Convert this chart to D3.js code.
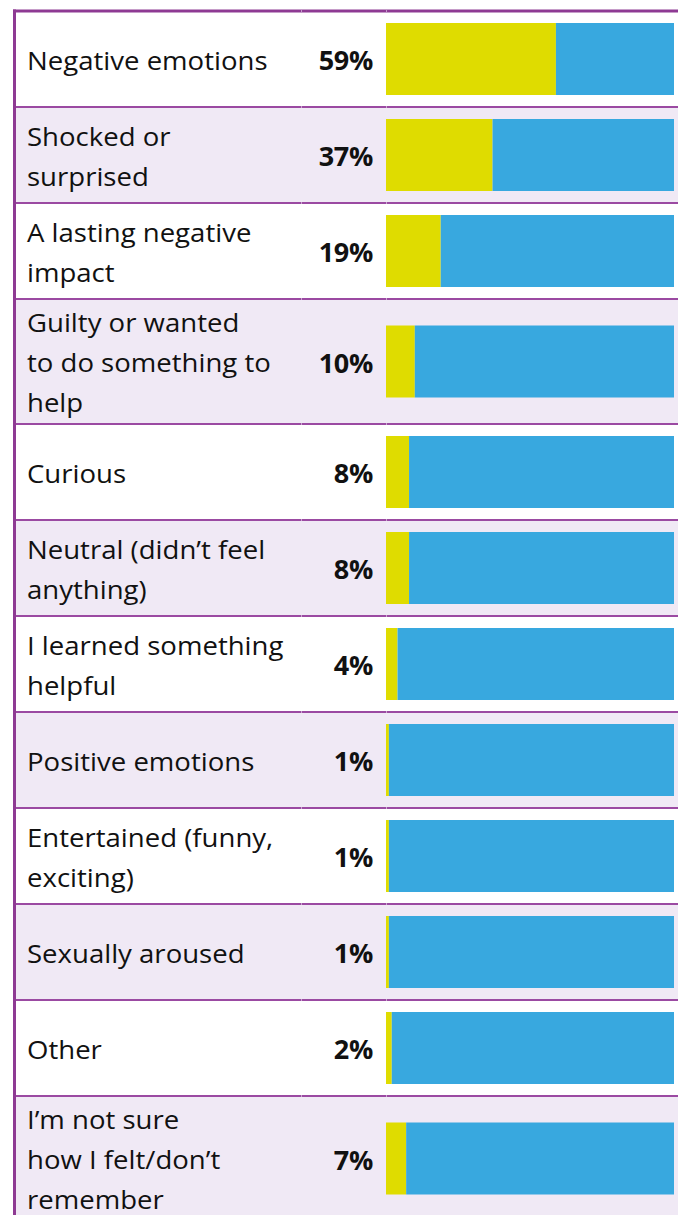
<!DOCTYPE html>
<html>
<head>
<meta charset="utf-8">
<script src="https://cdn.jsdelivr.net/npm/d3@7"></script>
<style>
  html, body { margin: 0; padding: 0; background: #ffffff; }
  svg { display: block; }
</style>
</head>
<body>
<svg id="chart" width="678" height="1215"></svg>
<script>
// Response categories, one array of text lines per table row
const categories = [
  ["Negative emotions"],
  ["Shocked or", "surprised"],
  ["A lasting negative", "impact"],
  ["Guilty or wanted", "to do something to", "help"],
  ["Curious"],
  ["Neutral (didn\u2019t feel", "anything)"],
  ["I learned something", "helpful"],
  ["Positive emotions"],
  ["Entertained (funny,", "exciting)"],
  ["Sexually aroused"],
  ["Other"],
  ["I\u2019m not sure", "how I felt/don\u2019t", "remember"]
];

// Share of respondents (%) for each category
const values = [59, 37, 19, 10, 8, 8, 4, 1, 1, 1, 2, 7];

// Value labels shown next to each bar
const valueLabels = ["59%", "37%", "19%", "10%", "8%", "8%", "4%", "1%", "1%", "1%", "2%", "7%"];

const W = 678, H = 1215;
const svg = d3.select("#chart");

const colors = {
  border: "#8e3a93",
  rule: "#9b4aa2",
  band: "#f0e9f5",
  yes: "#dfdc00",
  rest: "#38a8df",
  text: "#111111"
};

const tableLeft = 13, tableTop = 11;
const lineGap = 40;
const labelX = 27;

// Row heights grow with the number of text lines
const rowHeight = n => (n >= 3 ? 125 : 96);
const rows = [];
let yCursor = tableTop;
categories.forEach((lines, i) => {
  const h = rowHeight(lines.length);
  rows.push({ lines, value: values[i], label: valueLabels[i], y: yCursor, h, i });
  yCursor += h;
});

// Horizontal scale for the 100% stacked bar
const x = d3.scaleLinear().domain([0, 100]).range([386, 674]);
const barH = 72;

const g = svg.append("g");

// Alternating row bands
g.selectAll("rect.band")
  .data(rows)
  .join("rect")
  .attr("class", "band")
  .attr("x", tableLeft)
  .attr("y", d => d.y)
  .attr("width", W - tableLeft)
  .attr("height", d => d.h)
  .attr("fill", d => (d.i % 2 === 1 ? colors.band : "#ffffff"));

// Row separators
g.selectAll("line.rule")
  .data(rows.slice(1))
  .join("line")
  .attr("class", "rule")
  .attr("x1", tableLeft)
  .attr("x2", W)
  .attr("y1", d => d.y)
  .attr("y2", d => d.y)
  .attr("stroke", colors.rule)
  .attr("stroke-width", 2);

// Faint cell joints where column boundaries cross each rule
const joints = [301, 386];
rows.slice(1).forEach(r => {
  g.selectAll(null)
    .data(joints)
    .join("rect")
    .attr("x", d => d)
    .attr("y", r.y - 1)
    .attr("width", 1)
    .attr("height", 2)
    .attr("fill", "#c9a6cf");
});

// Outer border: top and left edges
g.append("rect")
  .attr("x", tableLeft)
  .attr("y", tableTop - 1.5)
  .attr("width", W - tableLeft)
  .attr("height", 3)
  .attr("fill", colors.border);
g.append("rect")
  .attr("x", tableLeft)
  .attr("y", tableTop - 1.5)
  .attr("width", 3)
  .attr("height", H)
  .attr("fill", colors.border);
g.selectAll(null)
  .data(joints)
  .join("rect")
  .attr("x", d => d)
  .attr("y", tableTop - 1.5)
  .attr("width", 1)
  .attr("height", 3)
  .attr("fill", "#c39acb");

// Stacked bars: share (yellow) and remainder (blue)
const bars = g.selectAll("g.bar")
  .data(rows)
  .join("g")
  .attr("class", "bar")
  .attr("transform", d => `translate(0,${d.y + d.h / 2 - barH / 2})`);

bars.append("rect")
  .attr("x", x(0))
  .attr("y", 0)
  .attr("width", d => x(d.value) - x(0))
  .attr("height", barH)
  .attr("fill", colors.yes);

bars.append("rect")
  .attr("x", d => x(d.value))
  .attr("y", 0)
  .attr("width", d => x(100) - x(d.value))
  .attr("height", barH)
  .attr("fill", colors.rest);

// Category labels (slightly widened to suit the wide geometric lettering)
const labelFont = "'Open Sans', Lato, sans-serif";
const widen = 1.06;
g.selectAll("text.cat")
  .data(rows)
  .join("text")
  .attr("class", "cat")
  .attr("transform", `translate(${labelX},0) scale(${widen},1) translate(${-labelX},0)`)
  .attr("font-family", labelFont)
  .attr("font-size", 26)
  .attr("fill", colors.text)
  .each(function (d) {
    const n = d.lines.length;
    const cy = d.y + d.h / 2 + 11;
    d3.select(this).selectAll("tspan")
      .data(d.lines)
      .join("tspan")
      .attr("x", labelX)
      .attr("y", (t, k) => cy + (k - (n - 1) / 2) * lineGap)
      .text(t => t);
  });

// Value labels, right-aligned before the bars
g.selectAll("text.val")
  .data(rows)
  .join("text")
  .attr("class", "val")
  .attr("font-family", labelFont)
  .attr("font-weight", 700)
  .attr("font-size", 27)
  .attr("letter-spacing", -0.3)
  .attr("fill", colors.text)
  .attr("text-anchor", "end")
  .attr("x", 373)
  .attr("y", d => d.y + d.h / 2 + 11)
  .text(d => d.label);
</script>
</body>
</html>
